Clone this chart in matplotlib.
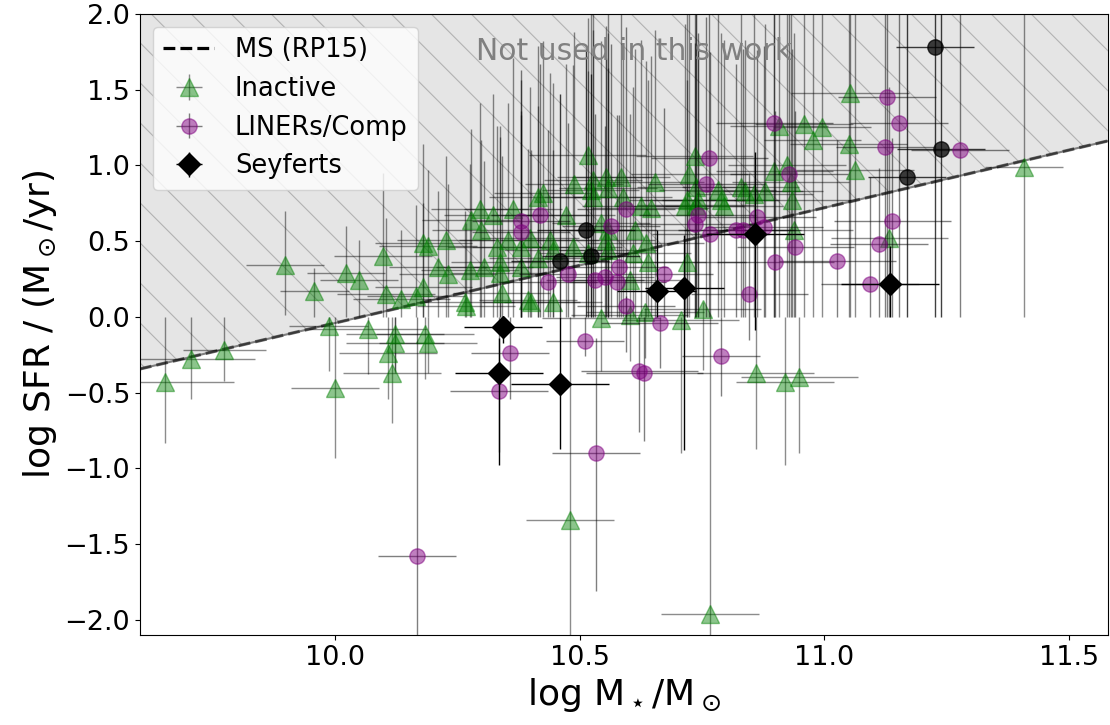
import numpy as np
import matplotlib
matplotlib.use("Agg")
import matplotlib.pyplot as plt
from matplotlib.collections import LineCollection
from matplotlib.lines import Line2D

# main sequence (Renzini & Peng 2015): log SFR = a * log M + b
ms_slope = 0.76
ms_icpt = -7.64

# inactive galaxies: log M, log SFR, xerr, lower yerr, upper yerr
ina_x = [9.652, 9.705, 9.773, 9.897, 9.957, 10.021, 10.048, 10.098, 9.986, 10.000,
         10.067, 10.122, 10.122, 10.108, 10.115, 10.184, 10.190, 10.104, 10.135, 10.165,
         10.180, 10.190, 10.180, 10.226, 10.210, 10.230, 10.265, 10.267, 10.275, 10.278,
         10.295, 10.298, 10.305, 10.322, 10.330, 10.336, 10.340, 10.363, 10.353, 10.380,
         10.394, 10.414, 10.516, 10.424, 10.488, 10.527, 10.553, 10.584, 10.653, 10.472,
         10.522, 10.588, 10.625, 10.645, 10.557, 10.557, 10.612, 10.439, 10.486, 10.398,
         10.635, 10.608, 10.639, 10.735, 10.724, 10.737, 10.720, 10.741, 10.716, 10.737,
         10.782, 10.788, 10.829, 10.837, 10.857, 10.878, 10.898, 10.924, 10.931, 10.935,
         10.959, 10.996, 10.976, 10.908, 11.053, 11.050, 11.063, 10.516, 10.543, 10.939,
         11.133, 10.720, 10.751, 10.633, 10.543, 10.602, 10.602, 10.706, 10.400, 10.445,
         10.480, 10.767, 10.860, 10.920, 10.949, 11.408, 10.336, 10.380, 10.414, 10.445,
         10.527, 10.557, 10.795, 10.553]
ina_y = [-0.43, -0.28, -0.22, 0.34, 0.17, 0.29, 0.24, 0.40, -0.06, -0.47,
         -0.08, -0.11, -0.17, -0.24, -0.37, -0.11, -0.17, 0.15, 0.12, 0.14,
         0.49, 0.47, 0.20, 0.51, 0.33, 0.28, 0.10, 0.07, 0.31, 0.64,
         0.71, 0.57, 0.33, 0.67, 0.46, 0.29, 0.16, 0.71, 0.51, 0.46,
         0.11, 0.79, 1.07, 0.82, 0.88, 0.90, 0.92, 0.92, 0.89, 0.67,
         0.84, 0.79, 0.73, 0.72, 0.85, 0.57, 0.57, 0.51, 0.46, 0.52,
         0.49, 0.42, 0.36, 1.06, 0.94, 0.86, 0.77, 0.77, 0.73, 0.74,
         0.84, 0.77, 0.86, 0.83, 0.81, 0.83, 0.96, 1.00, 0.89, 0.77,
         1.27, 1.25, 1.17, 1.26, 1.48, 1.14, 0.97, 0.42, 0.62, 0.57,
         0.52, 0.36, 0.05, 0.03, -0.01, 0.24, 0.01, -0.02, 0.10, 0.10,
         -1.34, -1.96, -0.37, -0.43, -0.40, 0.99, 0.36, 0.33, 0.39, 0.44,
         0.79, 0.44, 0.73, 0.51]
ina_xe = [0.14, 0.13, 0.085, 0.08, 0.07, 0.08, 0.08, 0.10, 0.08, 0.09,
          0.12, 0.10, 0.10, 0.10, 0.10, 0.10, 0.10, 0.10, 0.10, 0.10,
          0.10, 0.10, 0.10, 0.10, 0.10, 0.10, 0.10, 0.10, 0.10, 0.10,
          0.10, 0.10, 0.10, 0.10, 0.10, 0.10, 0.10, 0.10, 0.10, 0.10,
          0.10, 0.10, 0.12, 0.10, 0.10, 0.10, 0.10, 0.10, 0.10, 0.10,
          0.10, 0.10, 0.12, 0.12, 0.10, 0.10, 0.12, 0.10, 0.10, 0.10,
          0.12, 0.12, 0.12, 0.12, 0.12, 0.12, 0.12, 0.12, 0.12, 0.12,
          0.12, 0.12, 0.12, 0.12, 0.12, 0.12, 0.12, 0.12, 0.12, 0.12,
          0.10, 0.10, 0.10, 0.10, 0.12, 0.12, 0.12, 0.10, 0.10, 0.12,
          0.12, 0.12, 0.12, 0.12, 0.12, 0.12, 0.12, 0.12, 0.10, 0.10,
          0.09, 0.10, 0.12, 0.10, 0.12, 0.08, 0.10, 0.10, 0.10, 0.10,
          0.10, 0.10, 0.12, 0.10]
ina_lo = [0.40, 0.26, 0.20, 0.33, 0.17, 0.29, 0.24, 0.40, 0.30, 0.46,
          0.30, 0.25, 0.20, 0.30, 0.33, 0.30, 0.20, 0.15, 0.12, 0.14,
          0.49, 0.47, 0.20, 0.51, 0.33, 0.28, 0.10, 0.07, 0.31, 0.64,
          0.71, 0.57, 0.33, 0.67, 0.46, 0.29, 0.16, 0.71, 0.51, 0.46,
          0.11, 0.79, 1.07, 0.82, 0.88, 0.90, 0.92, 0.92, 0.89, 0.67,
          0.84, 0.79, 0.73, 0.72, 0.85, 0.57, 0.57, 0.51, 0.46, 0.52,
          0.49, 0.42, 0.36, 1.06, 0.94, 0.86, 0.77, 0.77, 0.73, 0.74,
          0.84, 0.77, 0.86, 0.83, 0.81, 0.83, 0.96, 1.00, 0.89, 0.77,
          1.27, 1.25, 1.17, 1.26, 1.48, 1.14, 0.97, 0.42, 0.62, 0.57,
          0.52, 0.36, 0.40, 0.30, 0.35, 0.24, 0.30, 0.88, 0.10, 0.10,
          0.80, 0.14, 0.50, 0.55, 0.50, 0.99, 0.36, 0.33, 0.39, 0.44,
          0.79, 0.44, 0.73, 0.51]
ina_hi = [0.43, 0.28, 0.22, 0.36, 0.15, 0.31, 0.27, 0.55, 0.06, 0.47,
          0.08, 0.11, 0.17, 0.24, 0.37, 0.11, 0.17, 0.50, 0.45, 0.60,
          0.65, 0.50, 0.55, 0.55, 0.50, 0.60, 0.60, 0.55, 0.70, 0.60,
          0.70, 0.60, 0.70, 0.80, 0.80, 0.90, 0.90, 1.00, 0.90, 0.90,
          1.00, 1.00, 0.90, 1.00, 1.00, 1.10, 1.00, 1.10, 1.00, 1.00,
          1.20, 1.00, 1.10, 1.00, 1.20, 1.30, 1.20, 1.10, 1.20, 1.00,
          1.20, 1.10, 1.20, 1.00, 1.10, 1.20, 1.30, 1.00, 1.20, 1.30,
          1.20, 1.10, 1.20, 1.00, 1.20, 1.10, 1.10, 1.00, 1.20, 1.00,
          0.80, 0.80, 0.90, 0.80, 0.60, 0.90, 1.10, 1.20, 1.20, 1.30,
          1.00, 1.20, 0.05, 0.03, 0.01, 1.10, 0.01, 0.02, 1.00, 1.00,
          1.34, 1.96, 0.37, 0.43, 0.40, 1.10, 0.90, 1.00, 1.00, 1.10,
          1.10, 1.20, 1.10, 1.20]

# LINERs / composites
lin_x = [11.129, 10.898, 11.153, 11.124, 11.278, 10.928, 10.765, 10.759, 10.594, 10.418,
         10.380, 10.380, 10.563, 10.741, 10.735, 10.767, 10.833, 10.820, 10.863, 10.877,
         11.139, 11.112, 10.941, 10.900, 11.027, 11.094, 10.847, 10.581, 10.476, 10.435,
         10.531, 10.551, 10.577, 10.673, 10.594, 10.663, 10.788, 10.622, 10.632, 10.357,
         10.335, 10.510, 10.533, 10.167]
lin_y = [1.45, 1.28, 1.28, 1.12, 1.10, 0.94, 1.05, 0.88, 0.71, 0.67,
         0.63, 0.56, 0.60, 0.67, 0.61, 0.55, 0.57, 0.57, 0.66, 0.59,
         0.63, 0.48, 0.46, 0.36, 0.37, 0.22, 0.15, 0.33, 0.28, 0.23,
         0.24, 0.26, 0.23, 0.28, 0.07, -0.04, -0.26, -0.36, -0.37, -0.24,
         -0.49, -0.16, -0.90, -1.58]
lin_xe = [0.10, 0.12, 0.10, 0.10, 0.10, 0.12, 0.12, 0.12, 0.10, 0.10,
          0.10, 0.10, 0.10, 0.12, 0.12, 0.12, 0.12, 0.12, 0.12, 0.12,
          0.12, 0.10, 0.12, 0.12, 0.12, 0.10, 0.12, 0.10, 0.10, 0.10,
          0.10, 0.10, 0.10, 0.10, 0.10, 0.12, 0.08, 0.12, 0.12, 0.08,
          0.10, 0.08, 0.09, 0.08]
lin_lo = [1.45, 1.28, 1.28, 1.12, 1.10, 0.94, 1.05, 0.88, 0.71, 0.67,
          0.63, 0.56, 0.60, 0.67, 0.61, 0.55, 0.57, 0.57, 0.66, 0.59,
          0.63, 0.48, 0.46, 0.36, 0.37, 0.22, 0.30, 0.33, 0.28, 0.23,
          0.24, 0.26, 0.23, 0.28, 0.30, 0.30, 0.26, 0.40, 0.45, 0.30,
          0.40, 0.10, 0.91, 0.55]
lin_hi = [0.60, 0.80, 0.80, 0.90, 0.95, 1.10, 1.00, 1.10, 1.20, 1.00,
          1.00, 1.00, 1.20, 1.20, 1.20, 1.20, 1.20, 1.10, 1.10, 1.20,
          0.55, 0.50, 0.90, 1.00, 0.80, 0.70, 0.80, 1.00, 1.00, 1.00,
          1.10, 1.00, 1.10, 1.10, 0.07, 0.04, 0.26, 0.36, 0.37, 0.24,
          0.49, 0.16, 0.76, 1.58]

# dark circles (not in legend)
dk_x = [11.227, 11.239, 11.169, 10.512, 10.459, 10.523]
dk_y = [1.78, 1.11, 0.92, 0.57, 0.37, 0.40]
dk_xe = [0.08, 0.09, 0.08, 0.10, 0.10, 0.10]
dk_lo = [1.78, 1.11, 0.92, 0.57, 0.37, 0.40]
dk_hi = [0.30, 0.90, 1.10, 1.20, 1.10, 1.20]

# Seyferts
sey_x = [10.859, 10.657, 10.714, 11.135, 10.343, 10.335, 10.459]
sey_y = [0.55, 0.17, 0.19, 0.22, -0.07, -0.37, -0.44]
sey_xe = [0.10, 0.08, 0.08, 0.10, 0.08, 0.09, 0.10]
sey_lo = [0.64, 0.17, 1.07, 0.22, 0.10, 0.61, 0.43]
sey_hi = [0.54, 0.40, 0.35, 0.25, 0.07, 0.23, 0.44]

xlim = (9.6, 11.58)
ylim = (-2.1, 2.0)

fig = plt.figure(figsize=(11.1, 7.25), dpi=100)
ax = fig.add_axes([0.126, 0.124, 0.872, 0.857])
ax.set_xlim(*xlim)
ax.set_ylim(*ylim)

# shaded region above the MS
mx = np.array([xlim[0], xlim[1]])
my = ms_slope * mx + ms_icpt
poly = ax.fill([mx[0], mx[1], mx[1], mx[0]], [my[0], my[1], ylim[1], ylim[1]],
               facecolor="gray", alpha=0.2, edgecolor="none", zorder=0)[0]
W, H = 968.0, 621.0
step = 40.0 / W
segs = [[(a, 1.0), (a + 2.0, 1.0 - 2.0 * W / H)] for a in np.arange(-1.6, 1.05, step)]
lc = LineCollection(segs, colors="#b2b2b2", linewidths=0.8, transform=ax.transAxes, zorder=0.5)
ax.add_collection(lc)
lc.set_clip_path(poly)
ax.plot(mx, my, color="gray", lw=1.5, zorder=1)
ax.plot(mx, my, color="k", ls="--", lw=2.3, alpha=0.55, zorder=1.1)

ekw = dict(elinewidth=1.0, capsize=0, linestyle="none")
h_ina = ax.errorbar(ina_x, ina_y, xerr=ina_xe, yerr=[ina_lo, ina_hi], fmt="^", color="green",
                    ecolor="k", alpha=0.45, ms=13, mec="green", label="Inactive", zorder=2, **ekw)
h_lin = ax.errorbar(lin_x, lin_y, xerr=lin_xe, yerr=[lin_lo, lin_hi], fmt="o", color="purple",
                    ecolor="k", alpha=0.5, ms=11, mec="purple", label="LINERs/Comp", zorder=3, **ekw)
ax.errorbar(dk_x, dk_y, xerr=dk_xe, yerr=[dk_lo, dk_hi], fmt="o", color="k",
            ecolor="k", alpha=0.75, ms=11, zorder=3, **ekw)
h_sey = ax.errorbar(sey_x, sey_y, xerr=sey_xe, yerr=[sey_lo, sey_hi], fmt="D", color="k",
                    ecolor="k", alpha=1.0, ms=11, label="Seyferts", zorder=4, **ekw)

ax.text(10.61, 1.75, "Not used in this work", color="gray", fontsize=21.5, ha="center", va="center")

ms_handle = Line2D([], [], color="k", ls="--", lw=2.3)
ax.legend([ms_handle, h_ina, h_lin, h_sey], ["MS (RP15)", "Inactive", "LINERs/Comp", "Seyferts"],
          loc="upper left", fontsize=18.5, framealpha=0.8)

ax.set_xticks([10.0, 10.5, 11.0, 11.5])
ax.set_yticks(np.arange(-2.0, 2.01, 0.5))
ax.tick_params(labelsize=19.5)
ax.set_xlabel(r"log M$_\star$/M$_\odot$", fontsize=26)
ax.set_ylabel(r"log SFR / (M$_\odot$/yr)", fontsize=26)

fig.savefig("out.png", dpi=100)
